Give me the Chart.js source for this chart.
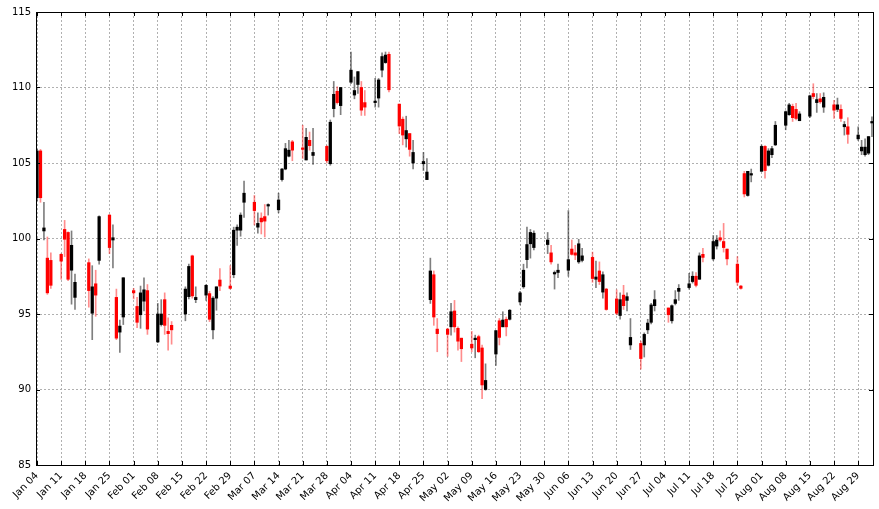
<!DOCTYPE html>
<html>
<head>
<meta charset="utf-8">
<title>Candlestick</title>
<script src="https://cdn.jsdelivr.net/npm/chart.js@4.4.1/dist/chart.umd.min.js"></script>
<style>
  html, body { margin: 0; padding: 0; background: #fff; }
  #wrap { width: 879px; height: 509px; }
</style>
</head>
<body>
<div id="wrap"><canvas id="chart" width="879" height="509"></canvas></div>
<script>
// daily OHLC
const dates = [
  "2016-01-04","2016-01-05","2016-01-06","2016-01-07","2016-01-08",
  "2016-01-11","2016-01-12","2016-01-13","2016-01-14","2016-01-15",
  "2016-01-19","2016-01-20","2016-01-21","2016-01-22",
  "2016-01-25","2016-01-26","2016-01-27","2016-01-28","2016-01-29",
  "2016-02-01","2016-02-02","2016-02-03","2016-02-04","2016-02-05",
  "2016-02-08","2016-02-09","2016-02-10","2016-02-11","2016-02-12",
  "2016-02-16","2016-02-17","2016-02-18","2016-02-19",
  "2016-02-22","2016-02-23","2016-02-24","2016-02-25","2016-02-26",
  "2016-02-29","2016-03-01","2016-03-02","2016-03-03","2016-03-04",
  "2016-03-07","2016-03-08","2016-03-09","2016-03-10","2016-03-11",
  "2016-03-14","2016-03-15","2016-03-16","2016-03-17","2016-03-18",
  "2016-03-21","2016-03-22","2016-03-23","2016-03-24",
  "2016-03-28","2016-03-29","2016-03-30","2016-03-31","2016-04-01",
  "2016-04-04","2016-04-05","2016-04-06","2016-04-07","2016-04-08",
  "2016-04-11","2016-04-12","2016-04-13","2016-04-14","2016-04-15",
  "2016-04-18","2016-04-19","2016-04-20","2016-04-21","2016-04-22",
  "2016-04-25","2016-04-26","2016-04-27","2016-04-28","2016-04-29",
  "2016-05-02","2016-05-03","2016-05-04","2016-05-05","2016-05-06",
  "2016-05-09","2016-05-10","2016-05-11","2016-05-12","2016-05-13",
  "2016-05-16","2016-05-17","2016-05-18","2016-05-19","2016-05-20",
  "2016-05-23","2016-05-24","2016-05-25","2016-05-26","2016-05-27",
  "2016-05-31","2016-06-01","2016-06-02","2016-06-03",
  "2016-06-06","2016-06-07","2016-06-08","2016-06-09","2016-06-10",
  "2016-06-13","2016-06-14","2016-06-15","2016-06-16","2016-06-17",
  "2016-06-20","2016-06-21","2016-06-22","2016-06-23","2016-06-24",
  "2016-06-27","2016-06-28","2016-06-29","2016-06-30","2016-07-01",
  "2016-07-05","2016-07-06","2016-07-07","2016-07-08",
  "2016-07-11","2016-07-12","2016-07-13","2016-07-14","2016-07-15",
  "2016-07-18","2016-07-19","2016-07-20","2016-07-21","2016-07-22",
  "2016-07-25","2016-07-26","2016-07-27","2016-07-28","2016-07-29",
  "2016-08-01","2016-08-02","2016-08-03","2016-08-04","2016-08-05",
  "2016-08-08","2016-08-09","2016-08-10","2016-08-11","2016-08-12",
  "2016-08-15","2016-08-16","2016-08-17","2016-08-18","2016-08-19",
  "2016-08-22","2016-08-23","2016-08-24","2016-08-25","2016-08-26",
  "2016-08-29","2016-08-30","2016-08-31","2016-09-01","2016-09-02"
];
const opens = [
  102.7,105.8,100.5,98.7,98.55, 98.95,100.6,100.4,97.9,96.1, 98.4,95.05,97.0,98.55,
  101.55,99.9,96.1,93.8,94.8, 96.55,95.5,94.95,95.85,96.55, 93.15,94.3,95.95,93.85,94.25,
  95.0,96.15,98.85,95.95, 96.25,96.35,93.95,96.05,97.25, 96.85,97.6,100.55,100.55,102.4,
  102.4,100.75,101.35,101.45,102.15, 101.9,103.9,104.6,105.45,106.4, 106.0,105.2,106.5,105.5,
  106.1,104.95,108.6,109.75,108.8, 110.35,109.5,110.2,110.0,109.0, 109.0,109.3,111.15,111.65,112.2,
  108.9,107.9,106.6,106.95,105.0, 104.95,103.9,95.95,97.6,94.0, 94.0,94.15,95.2,94.05,93.4,
  93.0,93.3,93.5,92.75,90.0, 92.35,94.55,94.15,94.65,94.65, 95.8,96.8,98.6,99.65,99.4,
  99.6,99.05,97.65,97.75, 97.9,99.3,99.05,98.45,98.55, 98.75,97.3,97.85,96.45,96.65,
  96.0,94.9,96.25,95.9,92.95, 93.05,92.95,93.95,94.45,95.55, 95.4,94.55,95.7,96.5,
  96.75,97.15,97.5,97.3,98.95, 98.65,99.5,100.05,99.8,99.3, 98.3,96.85,104.3,102.85,104.2,
  104.45,106.1,104.85,105.55,106.2, 107.5,108.2,108.75,108.55,107.8, 108.1,109.6,109.0,109.25,108.7,
  108.85,108.55,108.55,107.4,107.4, 106.6,105.8,105.55,105.65,107.65
];
const highs = [
  105.9,105.9,102.4,100.1,99.05, 99.0,101.2,100.45,100.5,97.65, 98.65,98.2,97.9,101.5,
  101.6,100.9,96.65,94.6,97.4, 96.7,96.1,96.85,97.4,96.95, 95.7,95.95,96.4,94.75,94.5,
  96.8,98.3,98.9,96.8, 96.95,96.5,96.15,96.8,98.0, 98.2,100.75,100.9,101.7,103.8,
  102.85,101.7,101.7,102.25,102.3, 103.0,104.65,106.3,106.5,106.5, 107.5,107.3,107.05,107.3,
  106.15,107.85,110.4,110.05,110.0, 112.35,110.7,111.05,110.4,109.8, 110.6,110.6,112.3,112.35,112.35,
  108.9,108.05,108.1,106.95,106.5, 105.7,105.3,98.7,97.85,94.7, 94.05,95.7,95.9,94.15,93.4,
  93.85,93.6,93.6,92.95,91.7, 93.9,94.7,95.15,94.8,95.3, 96.5,98.3,100.75,100.6,100.5,
  100.4,99.55,97.85,98.3, 101.85,99.9,99.55,99.95,99.35, 99.1,98.5,98.45,97.8,96.7,
  96.6,96.4,96.9,96.4,94.7, 93.2,93.75,94.65,95.7,96.55, 95.4,95.6,96.55,96.95,
  97.7,97.8,97.75,99.05,99.35, 100.2,100.2,100.5,101.0,99.3, 98.8,96.9,104.45,104.45,104.6,
  106.2,106.15,105.95,106.1,107.75, 108.45,108.95,108.9,108.95,108.4, 109.5,110.25,109.6,109.6,109.65,
  109.15,109.3,108.85,107.75,108.0, 107.4,106.5,106.6,106.75,108.05
];
const lows = [
  102.5,102.4,99.9,96.3,96.7, 97.3,98.8,97.2,95.65,95.3, 95.45,93.3,94.85,98.3,
  99.0,98.05,93.3,92.45,94.3, 96.0,94.1,94.05,95.2,93.65, 93.1,94.2,93.65,92.6,93.0,
  94.55,96.0,96.05,95.75, 95.9,94.5,93.35,95.25,96.55, 96.65,97.4,99.55,100.15,101.4,
  100.9,100.35,100.3,100.1,101.55, 101.7,103.8,104.55,105.4,105.15, 105.3,105.2,105.85,104.9,
  105.0,104.85,108.05,108.9,108.2, 110.25,109.25,109.6,108.15,108.15, 108.7,108.7,110.7,111.6,109.7,
  106.95,106.2,106.05,105.45,104.6, 104.5,103.9,95.7,94.25,92.5, 92.2,93.6,93.8,92.6,91.85,
  92.5,92.1,92.45,89.4,89.95, 91.6,92.95,94.15,93.55,94.6, 95.6,96.7,98.05,98.7,99.25,
  99.0,98.3,96.65,97.4, 97.5,98.9,98.6,98.35,98.45, 97.1,96.75,96.95,96.05,95.25,
  94.95,94.65,95.3,95.2,92.65, 91.35,92.15,93.7,94.35,95.2, 94.45,94.4,95.6,95.9,
  96.65,97.05,96.8,97.3,98.45, 98.55,99.3,99.8,99.1,98.25, 96.9,96.65,102.75,102.8,103.75,
  104.45,104.0,104.8,105.35,106.15, 107.2,108.15,107.75,107.85,107.8, 108.0,109.25,108.35,108.95,108.35,
  107.95,108.4,107.75,106.85,106.3, 106.5,105.55,105.45,105.55,106.75
];
const closes = [
  105.8,102.7,100.7,96.4,96.9, 98.5,99.95,97.3,99.55,97.1, 96.55,96.8,96.25,101.45,
  99.4,100.05,93.4,94.2,97.4, 96.4,94.45,96.4,96.6,94.0, 95.0,95.0,94.25,93.7,93.95,
  96.65,98.15,96.2,96.1, 96.9,94.65,96.05,96.8,96.85, 96.7,100.55,100.75,101.55,103.0,
  101.85,101.0,101.1,101.15,102.25, 102.55,104.6,105.95,105.85,105.85, 105.9,106.7,106.15,105.7,
  105.15,107.7,109.55,109.0,110.0, 111.15,109.8,111.05,108.5,108.7, 109.05,110.5,112.05,112.15,109.85,
  107.45,106.85,107.15,105.9,105.7, 105.1,104.4,97.85,94.8,93.7, 93.65,95.15,94.15,93.2,92.7,
  92.75,93.4,92.5,90.3,90.6, 93.9,93.45,94.6,94.15,95.25, 96.4,97.9,99.6,100.4,100.35,
  99.9,98.45,97.75,97.9, 98.6,98.95,98.9,99.65,98.85, 97.35,97.45,97.15,97.6,95.3,
  95.05,95.95,95.55,96.15,93.45, 92.05,93.65,94.4,95.6,95.95, 94.95,95.55,95.95,96.7,
  97.0,97.5,96.9,98.85,98.75, 99.8,99.9,99.9,99.4,98.65, 97.1,96.7,102.95,104.45,104.3,
  106.1,104.5,105.8,105.95,107.5, 108.4,108.85,108.0,107.95,108.25, 109.45,109.4,109.2,109.05,109.35,
  108.5,108.85,107.95,107.55,106.9, 106.85,106.05,106.05,106.75,107.75
];
// weekly (Monday) tick labels, first one on the first date
const tickLabels = [
  "Jan 04","Jan 11","Jan 18","Jan 25","Feb 01","Feb 08","Feb 15","Feb 22","Feb 29",
  "Mar 07","Mar 14","Mar 21","Mar 28","Apr 04","Apr 11","Apr 18","Apr 25",
  "May 02","May 09","May 16","May 23","May 30","Jun 06","Jun 13","Jun 20","Jun 27",
  "Jul 04","Jul 11","Jul 18","Jul 25","Aug 01","Aug 08","Aug 15","Aug 22","Aug 29"
];

const DAY = 86400000;
const start = Date.parse(dates[0]);
const xs = dates.map(d => (Date.parse(d) - start) / DAY);
const up = closes.map((c, i) => c >= opens[i]);
const barWidth = 0.6; // candle width in days, like the old matplotlib candlestick

const wickData = xs.map((x, i) => ({ x: x, y: [lows[i], highs[i]] }));
const bodyData = xs.map((x, i) => ({ x: x, y: [opens[i], closes[i]] }));

// matplotlib-ish frame and inward ticks
const framePlugin = {
  id: "frame",
  afterDraw(chart) {
    const { ctx, chartArea: a, scales } = chart;
    ctx.save();
    ctx.strokeStyle = "#000";
    ctx.lineWidth = 1;
    ctx.beginPath();
    scales.x.ticks.forEach(t => {
      const px = Math.round(scales.x.getPixelForValue(t.value)) + 0.5;
      ctx.moveTo(px, a.bottom); ctx.lineTo(px, a.bottom - 4);
      ctx.moveTo(px, a.top); ctx.lineTo(px, a.top + 4);
    });
    scales.y.ticks.forEach(t => {
      const py = Math.round(scales.y.getPixelForValue(t.value)) + 0.5;
      ctx.moveTo(a.left, py); ctx.lineTo(a.left + 4, py);
      ctx.moveTo(a.right, py); ctx.lineTo(a.right - 4, py);
    });
    ctx.stroke();
    ctx.strokeRect(Math.round(a.left) + 0.5, Math.round(a.top) + 0.5,
      Math.round(a.right - a.left), Math.round(a.bottom - a.top));
    ctx.restore();
  }
};

const font = { family: "'DejaVu Sans', sans-serif", size: 10 };

new Chart(document.getElementById("chart"), {
  type: "bar",
  data: {
    datasets: [
      {
        label: "wick",
        data: wickData,
        backgroundColor: up.map(u => u ? "rgba(0,0,0,0.5)" : "rgba(255,0,0,0.45)"),
        barThickness: 1,
        grouped: false,
        order: 1
      },
      {
        label: "body",
        data: bodyData,
        backgroundColor: up.map(u => u ? "#000000" : "#ff0000"),
        barThickness: 2.6,
        minBarLength: 1.5,
        grouped: false,
        order: 0
      }
    ]
  },
  options: {
    responsive: false,
    animation: false,
    devicePixelRatio: 1,
    layout: { padding: { top: 12, right: 6, left: 0, bottom: 0 } },
    plugins: {
      legend: { display: false },
      tooltip: { enabled: false }
    },
    scales: {
      x: {
        type: "linear",
        min: xs[0] - barWidth / 2,
        max: xs[xs.length - 1] + barWidth / 2,
        offset: false,
        afterBuildTicks: scale => {
          scale.ticks = tickLabels.map((_, i) => ({ value: xs[0] + i * 7 }));
        },
        afterFit: scale => { scale.height = 44; },
        grid: { offset: false, color: "#b0b0b0", lineWidth: 1, tickLength: 0, drawTicks: false },
        border: { display: false, dash: [2, 2] },
        ticks: {
          autoSkip: false,
          minRotation: 45,
          maxRotation: 45,
          padding: 5,
          color: "#000",
          font: font,
          callback: (v, i) => tickLabels[i]
        }
      },
      y: {
        min: 85,
        max: 115,
        afterFit: scale => { scale.width = 36; },
        grid: { color: "#b0b0b0", lineWidth: 1, tickLength: 0, drawTicks: false },
        border: { display: false, dash: [2, 2] },
        ticks: {
          stepSize: 5,
          padding: 5,
          color: "#000",
          font: font
        }
      }
    }
  },
  plugins: [framePlugin]
});
</script>
</body>
</html>
